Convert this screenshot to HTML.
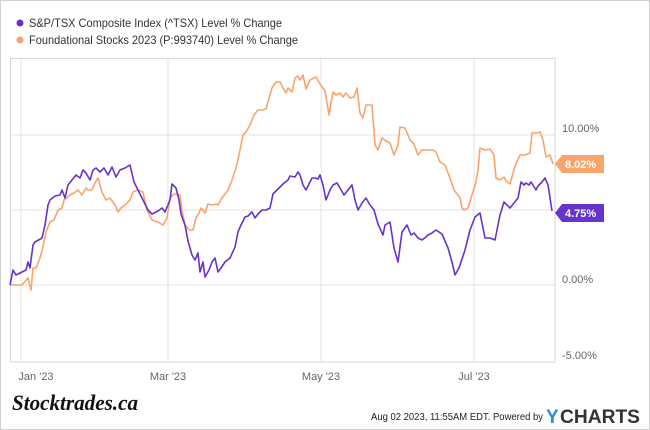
<!DOCTYPE html>
<html><head><style>
body{margin:0;background:#fff}
svg{display:block;font-family:"Liberation Sans",sans-serif}
</style></head><body>
<svg width="650" height="430" xmlns="http://www.w3.org/2000/svg">
<rect x="0.5" y="0.5" width="649" height="429" fill="#fff" stroke="#d0d0d0"/>
<circle cx="20" cy="23" r="3.5" fill="#6633cc"/>
<text x="29" y="27" font-size="12" fill="#333" textLength="253" lengthAdjust="spacingAndGlyphs">S&amp;P/TSX Composite Index (^TSX) Level % Change</text>
<circle cx="20" cy="40" r="3.5" fill="#f9a46b"/>
<text x="29" y="44" font-size="12" fill="#333" textLength="269" lengthAdjust="spacingAndGlyphs">Foundational Stocks 2023 (P:993740) Level % Change</text>
<g stroke="#e3e3e3" stroke-width="1">
<line x1="10" y1="135" x2="555" y2="135"/><line x1="10" y1="210" x2="555" y2="210"/><line x1="10" y1="285" x2="555" y2="285"/>
<line x1="21" y1="58" x2="21" y2="362"/><line x1="168" y1="58" x2="168" y2="362"/><line x1="321" y1="58" x2="321" y2="362"/><line x1="474" y1="58" x2="474" y2="362"/>
</g>
<rect x="10.5" y="58.5" width="544.5" height="303.5" fill="none" stroke="#d6d6d6"/>
<g font-size="11" fill="#666">
<text x="562" y="132">10.00%</text><text x="562" y="213">5.00%</text><text x="562" y="283">0.00%</text><text x="562" y="359">-5.00%</text>
<text x="36" y="380" text-anchor="middle">Jan '23</text><text x="168" y="380" text-anchor="middle">Mar '23</text><text x="321" y="380" text-anchor="middle">May '23</text><text x="474" y="380" text-anchor="middle">Jul '23</text>
</g>
<polyline fill="none" stroke="#f9a46b" stroke-width="1.6" stroke-linejoin="round" points="10,285 18,285 22,285 28,278 31,290 33,268 36,268 40,258 43,247 46,232 50,222 54,220 58,210 62,208 64,200 70,195 74,193 78,190 82,195 86,188 88,190 92,190 95,183 98,178 102,192 106,200 110,198 115,205 118,212 121,208 125,205 130,200 133,192 138,190 143,192 147,210 152,220 158,222 163,225 167,218 170,198 174,194 180,195 182,210 185,225 189,230 193,230 196,218 199,213 201,208 205,213 208,204 212,205 216,204 218,205 222,198 228,190 232,180 236,168 239,155 243,135 246,132 250,125 254,115 258,110 262,110 266,109 269,98 272,88 276,82 280,82 283,88 286,93 288,88 292,92 295,78 298,76 300,80 303,75 306,89 310,80 316,77 320,84 325,91 329,115 333,92 336,95 340,93 343,97 346,93 350,98 354,97 357,88 360,113 363,118 366,105 372,105 375,145 378,150 382,138 386,141 390,143 394,155 398,145 400,127 405,128 410,140 414,144 418,155 422,150 428,150 433,150 436,152 440,162 445,165 450,178 454,190 460,198 462,208 464,210 468,208 472,195 476,182 478,170 480,148 485,150 490,149 494,155 496,178 500,180 504,177 506,181 510,184 515,166 520,155 525,155 530,153 532,133 537,133 540,132 543,140 546,157 550,155 553,164"/>
<polyline fill="none" stroke="#6633cc" stroke-width="1.6" stroke-linejoin="round" points="10,285 13,270 16,275 22,272 26,270 28,262 30,268 33,245 35,242 42,238 45,225 48,205 50,200 55,196 60,195 62,190 65,198 68,185 72,180 76,175 80,178 83,170 86,173 90,180 93,170 96,168 100,172 104,168 108,175 112,167 116,177 120,170 125,168 130,165 134,182 138,190 143,200 148,210 152,214 158,211 162,208 165,212 170,200 172,184 176,188 179,200 181,214 185,225 188,241 192,255 195,260 198,253 200,272 203,262 205,277 209,270 212,262 215,258 218,272 221,268 225,262 230,258 235,247 238,232 241,225 245,217 248,216 252,212 255,218 258,214 262,210 266,210 270,208 273,194 277,190 281,186 284,183 288,180 290,176 295,177 298,172 300,175 303,185 306,190 312,178 315,178 318,179 320,175 323,185 326,200 330,190 333,185 337,183 340,188 344,195 348,190 352,185 355,200 358,210 362,203 366,198 370,205 374,210 378,224 383,235 385,225 390,222 394,248 398,262 402,232 407,225 411,235 414,233 418,238 422,240 426,237 428,235 432,233 436,230 442,234 448,248 452,262 455,275 459,268 465,250 470,230 475,217 480,213 485,238 490,238 495,240 500,215 504,202 510,208 514,203 518,198 521,182 524,185 526,183 529,185 531,182 536,190 538,186 542,182 545,178 548,185 552,211"/>
<polygon points="555,164 562,155 604,155 604,173 562,173" fill="#f9a46b"/>
<text x="565" y="168" font-size="11" font-weight="bold" fill="#fff">8.02%</text>
<polygon points="555,213 562,204 604,204 604,222 562,222" fill="#6633cc"/>
<text x="565" y="217" font-size="11" font-weight="bold" fill="#fff">4.75%</text>
<text x="12" y="410" font-family="'Liberation Serif',serif" font-style="italic" font-weight="bold" font-size="22" fill="#111" textLength="126" lengthAdjust="spacingAndGlyphs">Stocktrades.ca</text>
<text x="371" y="420" font-size="10" fill="#222" textLength="172" lengthAdjust="spacingAndGlyphs">Aug 02 2023, 11:55AM EDT.  Powered by</text>
<text x="546" y="423" font-size="19" font-weight="bold" fill="#2a8fe0">Y</text>
<text x="560" y="423" font-size="19" font-weight="bold" fill="#333" textLength="80" lengthAdjust="spacingAndGlyphs">CHARTS</text>
</svg>
</body></html>
